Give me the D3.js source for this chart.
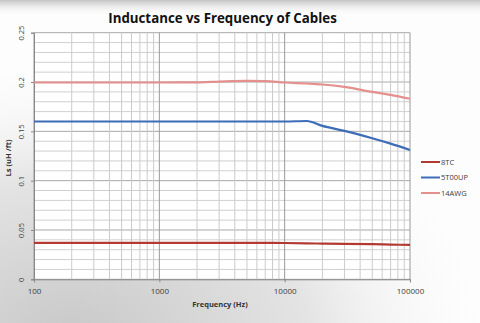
<!DOCTYPE html>
<html><head><meta charset="utf-8">
<script src="https://cdn.jsdelivr.net/npm/d3@7"></script>
<style>html,body{margin:0;padding:0;background:#fff;}svg{display:block;}</style>
</head><body>
<script>
const freqs = [100, 200, 500, 1000, 2000, 3000, 5000, 7000, 10000, 15000, 20000, 30000, 50000, 70000, 100000];
const s8TC   = [0.0370, 0.0370, 0.0370, 0.0370, 0.0370, 0.0370, 0.0369, 0.0369, 0.0368, 0.0365, 0.0362, 0.0360, 0.0356, 0.0352, 0.0348];
const s5T00UP= [0.1600, 0.1600, 0.1600, 0.1600, 0.1600, 0.1600, 0.1600, 0.1600, 0.1600, 0.1605, 0.1555, 0.1505, 0.1430, 0.1375, 0.1310];
const s14AWG = [0.1995, 0.1995, 0.1995, 0.1995, 0.1997, 0.2005, 0.2012, 0.2010, 0.1995, 0.1985, 0.1975, 0.1950, 0.1900, 0.1870, 0.1830];
const seriesNames = ["8TC", "5T00UP", "14AWG"];
const seriesColors = ["#b23a33", "#3d6cb8", "#e3908e"];
const yTicks = [0, 0.05, 0.1, 0.15, 0.2, 0.25];
const xTicks = [100, 1000, 10000, 100000];
const title = "Inductance vs Frequency of Cables";
const xTitle = "Frequency (Hz)";
const yTitle = "Ls (uH /ft)";

const W = 480, H = 323;
const svg = d3.select("body").append("svg").attr("width", W).attr("height", H);
const defs = svg.append("defs");
const gTop = defs.append("linearGradient").attr("id","gt").attr("x1",0).attr("y1",0).attr("x2",0).attr("y2",1);
gTop.append("stop").attr("offset","0%").attr("stop-color","#c4c4c4");
gTop.append("stop").attr("offset","100%").attr("stop-color","#ffffff").attr("stop-opacity",0);
const gBot = defs.append("radialGradient").attr("id","gb").attr("cx","0.15").attr("cy","1.05").attr("r","0.9");
gBot.append("stop").attr("offset","0%").attr("stop-color","#c8c8c8");
gBot.append("stop").attr("offset","55%").attr("stop-color","#e4e4e4");
gBot.append("stop").attr("offset","100%").attr("stop-color","#ffffff").attr("stop-opacity",0);

svg.append("rect").attr("width",W).attr("height",H).attr("fill","#fdfdfd");
svg.append("rect").attr("width",W).attr("height",H).attr("fill","url(#gb)");
svg.append("rect").attr("width",W).attr("height",16).attr("fill","url(#gt)");

const x = d3.scaleLog().domain([100, 100000]).range([34, 410]);
const y = d3.scaleLinear().domain([0, 0.25]).range([279.3, 32.7]);

svg.append("rect").attr("x",34).attr("y",32.7).attr("width",376).attr("height",246.6).attr("fill","#ffffff");

const minorX = [];
for (let d = 100; d < 100000; d *= 10) for (let k = 2; k <= 9; k++) minorX.push(d*k);
const minorY = d3.range(0, 26).map(i => i/100);
svg.append("g").selectAll("line").data(minorY).join("line")
  .attr("x1",34).attr("x2",410).attr("y1",d=>y(d)).attr("y2",d=>y(d))
  .attr("stroke",(d,i)=> i%5===0 ? "#a8a8a8" : "#d0d0d0").attr("stroke-width",1);
svg.append("g").selectAll("line").data(minorX).join("line")
  .attr("y1",32.7).attr("y2",279.3).attr("x1",d=>x(d)).attr("x2",d=>x(d))
  .attr("stroke","#cbcbcb").attr("stroke-width",1);
svg.append("g").selectAll("line").data(xTicks).join("line")
  .attr("y1",32.7).attr("y2",279.3).attr("x1",d=>x(d)).attr("x2",d=>x(d))
  .attr("stroke","#999").attr("stroke-width",1);

const yAxis = d3.axisLeft(y).tickValues(yTicks).tickSize(3).tickFormat(d=>String(d));
const ya = svg.append("g").attr("transform","translate(34,0)").call(yAxis);
ya.select(".domain").attr("stroke","#888");
ya.selectAll(".tick line").attr("stroke","#888");
ya.selectAll(".tick text").attr("x",null).attr("dy",null)
  .attr("transform","translate(-10,0) rotate(-90)").attr("text-anchor","middle")
  .attr("font-family","Open Sans, sans-serif").attr("font-size","7.5px").attr("fill","#404040");

const xAxis = d3.axisBottom(x).tickValues(xTicks).tickSize(3).tickFormat(d=>String(d));
const xa = svg.append("g").attr("transform","translate(0,279.3)").call(xAxis);
xa.select(".domain").attr("stroke","#888");
xa.selectAll(".tick line").attr("stroke","#888");
xa.selectAll(".tick text").attr("dy","0").attr("y",14.5).attr("font-family","Open Sans, sans-serif").attr("font-size","8px").attr("fill","#404040");

const allSeries = [s8TC, s5T00UP, s14AWG];
const line = d3.line().x((d,i)=>x(freqs[i])).y(d=>y(d)).curve(d3.curveMonotoneX);
svg.append("g").selectAll("path").data(allSeries).join("path")
  .attr("d", line).attr("fill","none").attr("stroke",(d,i)=>seriesColors[i]).attr("stroke-width",2.2);

svg.append("text").attr("x",222.5).attr("y",23).attr("text-anchor","middle")
  .attr("font-family","Open Sans, sans-serif").attr("font-weight","bold").attr("font-size","13.3px")
  .attr("fill","#111").text(title);
svg.append("text").attr("x",220).attr("y",307).attr("text-anchor","middle")
  .attr("font-family","Open Sans, sans-serif").attr("font-weight","bold").attr("font-size","7.5px")
  .attr("fill","#333").text(xTitle);
svg.append("text").attr("transform","translate(11,158) rotate(-90)").attr("text-anchor","middle")
  .attr("font-family","Open Sans, sans-serif").attr("font-weight","bold").attr("font-size","7.5px")
  .attr("fill","#333").text(yTitle);

const lg = svg.append("g").selectAll("g").data(seriesNames).join("g")
  .attr("transform",(d,i)=>`translate(421,${162 + i*15.5})`);
lg.append("line").attr("x1",0).attr("x2",19).attr("y1",0).attr("y2",0)
  .attr("stroke",(d,i)=>seriesColors[i]).attr("stroke-width",2);
lg.append("text").attr("x",20).attr("y",0).attr("dy","0.35em")
  .attr("font-family","Open Sans, sans-serif").attr("font-size","7.5px").attr("fill","#404040").text(d=>d);
</script>
</body></html>
